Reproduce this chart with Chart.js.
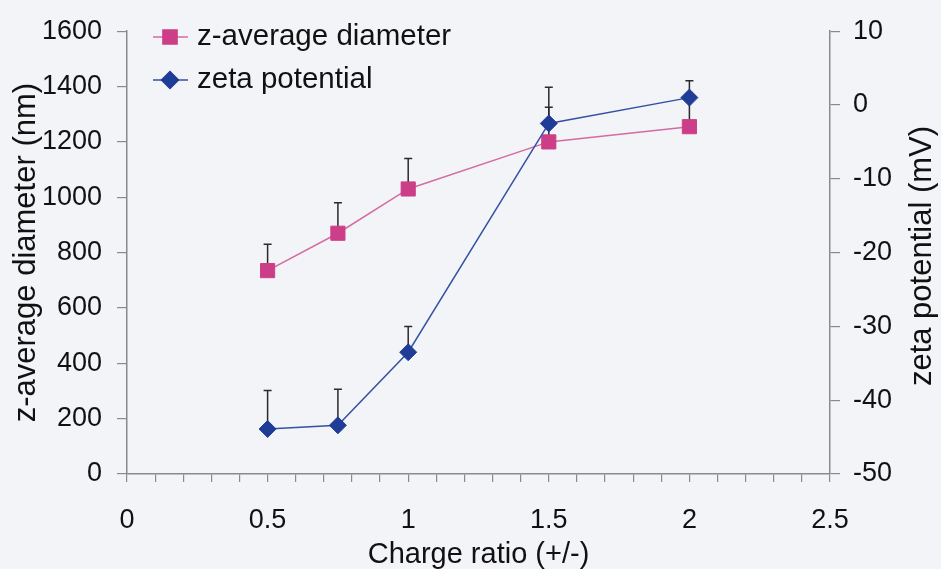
<!DOCTYPE html>
<html>
<head>
<meta charset="utf-8">
<script src="https://cdn.jsdelivr.net/npm/chart.js@4"></script>
<style>
  html, body { margin: 0; padding: 0; background: #f3f4f8; }
  #wrap { width: 941px; height: 569px; }
</style>
</head>
<body>
<div id="wrap"><canvas id="chart" width="941" height="569"></canvas></div>
<script>
// charge ratio on the x axis
const chargeRatio = [0.5, 0.75, 1, 1.5, 2];

// z-average diameter (nm), left axis, with upper error
const diameter = [735, 870, 1030, 1200, 1255];
const diameterErr = [95, 110, 110, 125, 100];

// zeta potential (mV), right axis, with upper error
const zeta = [-43.9, -43.4, -33.5, -2.5, 1.0];
const zetaErr = [5.2, 4.9, 3.5, 4.9, 2.3];

const pinkLine = "#d66ba3";
const pinkMark = "#cc3f88";
const blueLine = "#3452a3";
const blueMark = "#1f3c97";
const axisGray = "#8a8a8a";
const fontFamily = "'Liberation Sans', Arial, sans-serif";

Chart.defaults.font.family = fontFamily;
Chart.defaults.color = "#111";

function toPoints(xs, ys) {
    return xs.map((x, i) => ({ x: x, y: ys[i] }));
}

// Upper error bars, drawn under the markers
const errorBars = {
    id: "errorBars",
    beforeDatasetsDraw(chart) {
        const ctx = chart.ctx;
        const xs = chart.scales.x;
        const sets = [
            { scale: chart.scales.y, vals: diameter, errs: diameterErr },
            { scale: chart.scales.y1, vals: zeta, errs: zetaErr },
        ];
        ctx.save();
        ctx.strokeStyle = "#2a2a2a";
        ctx.lineWidth = 1.5;
        sets.forEach((s) => {
            chargeRatio.forEach((r, i) => {
                const px = xs.getPixelForValue(r);
                const y0 = s.scale.getPixelForValue(s.vals[i]);
                const y1 = s.scale.getPixelForValue(s.vals[i] + s.errs[i]);
                ctx.beginPath();
                ctx.moveTo(px, y0);
                ctx.lineTo(px, y1);
                ctx.moveTo(px - 4, y1);
                ctx.lineTo(px + 4, y1);
                ctx.stroke();
            });
        });
        ctx.restore();
    },
};

// Legend in the top-left corner and the right-hand axis title
const extras = {
    id: "extras",
    afterDraw(chart) {
        const ctx = chart.ctx;
        ctx.save();
        const items = [
            { text: "z-average diameter", line: pinkLine, mark: pinkMark, style: "rect", y: 37 },
            { text: "zeta potential", line: blueLine, mark: blueMark, style: "rectRot", y: 80 },
        ];
        items.forEach((it) => {
            ctx.strokeStyle = it.line;
            ctx.lineWidth = 1.5;
            ctx.beginPath();
            ctx.moveTo(153, it.y);
            ctx.lineTo(188, it.y);
            ctx.stroke();
            ctx.fillStyle = it.mark;
            ctx.strokeStyle = it.mark;
            Chart.helpers.drawPoint(ctx, { pointStyle: it.style, radius: it.style === "rect" ? 10 : 8.5, borderWidth: 1 }, 170, it.y);
            ctx.fillStyle = "#111";
            ctx.font = "29.5px " + fontFamily;
            ctx.textAlign = "left";
            ctx.textBaseline = "middle";
            ctx.fillText(it.text, 197, it.y);
        });

        ctx.translate(922, 256);
        ctx.rotate(-Math.PI / 2);
        ctx.font = "31px " + fontFamily;
        ctx.textAlign = "center";
        ctx.textBaseline = "middle";
        ctx.fillStyle = "#111";
        ctx.fillText("zeta potential (mV)", 0, 0);
        ctx.restore();
    },
};

new Chart(document.getElementById("chart"), {
    type: "line",
    data: {
        datasets: [
            {
                label: "zeta potential",
                data: toPoints(chargeRatio, zeta),
                yAxisID: "y1",
                order: 0,
                borderColor: blueLine,
                borderWidth: 1.5,
                pointStyle: "rectRot",
                pointRadius: 8.5,
                pointBackgroundColor: blueMark,
                pointBorderColor: blueMark,
                pointBorderWidth: 1,
                tension: 0,
            },
            {
                label: "z-average diameter",
                data: toPoints(chargeRatio, diameter),
                yAxisID: "y",
                order: 1,
                borderColor: pinkLine,
                borderWidth: 1.5,
                pointStyle: "rect",
                pointRadius: 10,
                pointBackgroundColor: pinkMark,
                pointBorderColor: pinkMark,
                pointBorderWidth: 1,
                tension: 0,
            },
        ],
    },
    options: {
        responsive: false,
        animation: false,
        layout: { padding: { top: 29, left: 0, right: 0, bottom: 0 } },
        plugins: {
            legend: { display: false },
            tooltip: { enabled: false },
        },
        scales: {
            x: {
                type: "linear",
                min: 0,
                max: 2.5,
                afterFit: (scale) => { scale.height = 95; },
                border: { color: axisGray, width: 1.5 },
                grid: { drawOnChartArea: false, tickLength: 8, color: axisGray, lineWidth: 1.2 },
                ticks: {
                    stepSize: 0.1,
                    maxTicksLimit: 40,
                    autoSkip: false,
                    maxRotation: 0,
                    padding: 22,
                    font: { size: 27 },
                    callback: (v) => {
                        const t = Math.round(v * 10);
                        return t % 5 === 0 ? String(t / 10) : "";
                    },
                },
                title: {
                    display: true,
                    text: "Charge ratio (+/-)",
                    font: { size: 29 },
                    padding: { top: 0, bottom: -3 },
                },
            },
            y: {
                position: "left",
                min: 0,
                max: 1600,
                afterFit: (scale) => { scale.width = 127; },
                border: { color: axisGray, width: 1.5 },
                grid: { drawOnChartArea: false, tickLength: 10, color: axisGray, lineWidth: 1.2 },
                ticks: { stepSize: 200, padding: 15, font: { size: 27 }, callback: (v) => String(v) },
                title: {
                    display: true,
                    text: "z-average diameter (nm)",
                    font: { size: 31 },
                    padding: { top: 8, bottom: 0 },
                },
            },
            y1: {
                position: "right",
                min: -50,
                max: 10,
                afterFit: (scale) => { scale.width = 111; },
                border: { color: axisGray, width: 1.5 },
                grid: { drawOnChartArea: false, tickLength: 10, color: axisGray, lineWidth: 1.2 },
                ticks: { stepSize: 10, padding: 13, font: { size: 27 }, callback: (v) => String(v) },
            },
        },
    },
    plugins: [errorBars, extras],
});
</script>
</body>
</html>
